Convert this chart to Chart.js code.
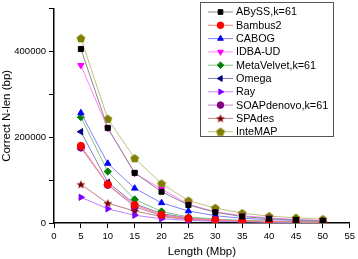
<!DOCTYPE html>
<html>
<head>
<meta charset="utf-8">
<script src="https://cdn.jsdelivr.net/npm/chart.js@4/dist/chart.umd.min.js"></script>
<style>
  html, body { margin: 0; padding: 0; background: #fff; }
  #wrap { width: 358px; height: 259px; position: relative; }
</style>
</head>
<body>
<div id="wrap"><canvas id="chart" width="358" height="259"></canvas></div>
<script>
// lengths (Mbp)
const lengths = [5, 10, 15, 20, 25, 30, 35, 40, 45, 50]

// correct N-len (bp)
const abyss      = [406000, 222000, 117000, 73000, 42000, 25000, 15000, 10000, 7000, 5000]
const bambus2    = [180000, 90000, 42000, 19000, 11000, 7000, 5000, 3500, 2500, 2000]
const cabog      = [257000, 139000, 81000, 47000, 28000, 17000, 11000, 8000, 6000, 4000]
const idba       = [368000, 221000, 116000, 79000, 44000, 26000, 17000, 12000, 8000, 6000]
const metavelvet = [247000, 120000, 55000, 27000, 14000, 9000, 6000, 4000, 3000, 2000]
const omega      = [213000, 95000, 45000, 22000, 12000, 8000, 5500, 4000, 3000, 2500]
const ray        = [60000, 33000, 18000, 10000, 6000, 4000, 3000, 2000, 1500, 1000]
const soap       = [176000, 89000, 38000, 17000, 9000, 6000, 4000, 3000, 2000, 1500]
const spades     = [90000, 46000, 28000, 15000, 8000, 5000, 3500, 2500, 2000, 1500]
const intemap    = [431000, 243000, 151000, 92000, 52000, 35000, 23000, 16000, 12000, 9000]

const xTicks = [0, 5, 10, 15, 20, 25, 30, 35, 40, 45, 50, 55]
const yLabels = [0, 200000, 400000]

function shapeCanvas(type, color){
  let c = document.createElement("canvas")
  c.width = 10
  c.height = 10
  let g = c.getContext("2d")
  g.fillStyle = color
  g.beginPath()
  let n = type == "star" ? 10 : 5
  for (let i = 0; i < n; i++) {
    let a = -Math.PI/2 + i * 2*Math.PI/n
    let r = (type == "star" && i % 2 == 1) ? 2 : 4.6
    let px = 5 + r*Math.cos(a), py = 5.3 + r*Math.sin(a)
    i == 0 ? g.moveTo(px, py) : g.lineTo(px, py)
  }
  g.closePath()
  g.fill()
  return c
}

function ds(label, data, color, line, style, rot){
  return {
    label: label,
    data: data.map((v, i) => ({x: lengths[i], y: v})),
    borderColor: line,
    backgroundColor: color,
    pointBorderColor: color,
    pointBackgroundColor: color,
    pointStyle: style,
    pointRotation: rot || 0,
    pointRadius: 3.6,
    borderWidth: 1,
    tension: 0
  }
}

const datasets = [
  ds("ABySS,k=61", abyss, "#000000", "#8a8a8a", "rect"),
  ds("Bambus2", bambus2, "#ff0000", "#ff8080", "circle"),
  ds("CABOG", cabog, "#0000ff", "#8080ff", "triangle"),
  ds("IDBA-UD", idba, "#ff00ff", "#ff80ff", "triangle", 180),
  ds("MetaVelvet,k=61", metavelvet, "#008000", "#80c080", "rectRot"),
  ds("Omega", omega, "#000080", "#8080c0", "triangle", -90),
  ds("Ray", ray, "#8000ff", "#c080ff", "triangle", 90),
  ds("SOAPdenovo,k=61", soap, "#800080", "#c080c0", "circle"),
  ds("SPAdes", spades, "#800000", "#c08080", shapeCanvas("star", "#800000")),
  ds("InteMAP", intemap, "#808000", "#c0c080", shapeCanvas("penta", "#808000"))
]

// legend box drawn inside the plot like in the original
const boxLegend = {
  id: "boxLegend",
  afterDraw(chart){
    let ctx = chart.ctx
    let x0 = 200.5, y0 = 2.5, w = 133, h = 134
    ctx.save()
    ctx.fillStyle = "#fff"
    ctx.fillRect(x0, y0, w, h)
    ctx.strokeStyle = "#555"
    ctx.lineWidth = 1
    ctx.strokeRect(x0, y0, w, h)
    ctx.font = "10.8px 'Liberation Sans', Arial, sans-serif"
    ctx.textBaseline = "middle"
    chart.data.datasets.forEach((d, i) => {
      let y = 12 + i * 13.3
      ctx.strokeStyle = d.borderColor
      ctx.beginPath()
      ctx.moveTo(208, y)
      ctx.lineTo(233, y)
      ctx.stroke()
      ctx.fillStyle = d.backgroundColor
      ctx.strokeStyle = d.backgroundColor
      Chart.helpers.drawPoint(ctx, {pointStyle: d.pointStyle, rotation: d.pointRotation, radius: 3.3, borderWidth: 1}, 220.5, y)
      ctx.fillStyle = "#000"
      ctx.fillText(d.label, 236, y + 0.5)
    })
    ctx.restore()
  }
}

Chart.defaults.font.family = "'Liberation Sans', Arial, sans-serif"
Chart.defaults.color = "#000"

new Chart(document.getElementById("chart"), {
  type: "line",
  data: { datasets: datasets },
  options: {
    responsive: false,
    animation: false,
    layout: { padding: { top: 4, right: 6, left: 0, bottom: 0 } },
    plugins: { legend: { display: false }, tooltip: { enabled: false } },
    scales: {
      x: {
        type: "linear",
        min: 0, max: 55,
        afterBuildTicks: s => { s.ticks = xTicks.map(v => ({value: v})) },
        border: { color: "#000", width: 1.5 },
        grid: { drawOnChartArea: false, tickLength: 5, color: "#000" },
        ticks: { font: { size: 9.5 }, padding: 3, maxRotation: 0 },
        title: { display: true, text: "Length (Mbp)", font: { size: 11.5 }, padding: { top: 4, bottom: 0 } },
        afterFit: s => { s.height = 36 }
      },
      y: {
        min: 0, max: 500000,
        border: { color: "#000", width: 1.5 },
        grid: { drawOnChartArea: false, tickLength: 5, color: "#000" },
        ticks: {
          stepSize: 100000,
          font: { size: 9.5 },
          padding: 3,
          callback: v => yLabels.includes(v) ? String(v) : ""
        },
        title: { display: true, text: "Correct N-len (bp)", font: { size: 11.5 }, padding: { top: 0, bottom: 0 } },
        afterFit: s => { s.width = 54 }
      }
    }
  },
  plugins: [boxLegend]
})
</script>
</body>
</html>
